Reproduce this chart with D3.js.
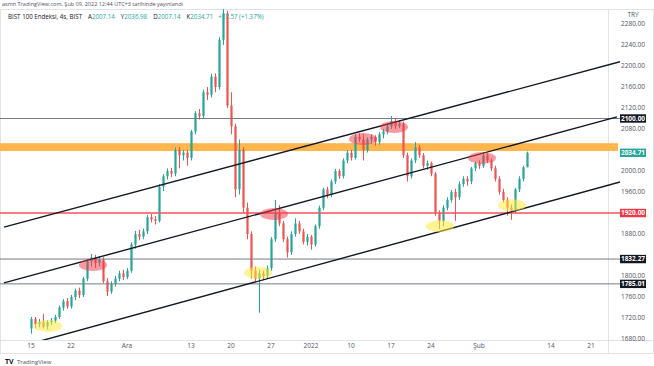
<!DOCTYPE html>
<html>
<head>
<meta charset="utf-8">
<script src="https://cdn.jsdelivr.net/npm/d3@7"></script>
<style>
  body { margin: 0; background: #fff; }
  svg { display: block; font-family: 'Open Sans', sans-serif; }
</style>
</head>
<body>
<svg id="chart" width="654" height="366"></svg>
<script>
// 4h candles, BIST 100, 15 Kas 2021 - 09 Şub 2022 : [open, high, low, close]
const candles = [
  [1700, 1722, 1690, 1718], [1718, 1722, 1700, 1708], [1708, 1718, 1702, 1712], [1712, 1728, 1700, 1704],
  [1704, 1716, 1698, 1712], [1712, 1720, 1706, 1715], [1715, 1726, 1710, 1722], [1722, 1744, 1718, 1740],
  [1740, 1756, 1734, 1752], [1752, 1758, 1738, 1742], [1742, 1764, 1738, 1760], [1760, 1776, 1754, 1772],
  [1772, 1778, 1758, 1764], [1764, 1798, 1760, 1795], [1795, 1832, 1790, 1828], [1828, 1842, 1818, 1835],
  [1835, 1840, 1815, 1825], [1825, 1838, 1818, 1832], [1832, 1836, 1786, 1790], [1790, 1796, 1762, 1770],
  [1770, 1790, 1766, 1785], [1785, 1800, 1780, 1795], [1795, 1810, 1790, 1805], [1805, 1812, 1792, 1798],
  [1798, 1815, 1794, 1810], [1810, 1864, 1806, 1860], [1860, 1886, 1852, 1880], [1880, 1888, 1868, 1875],
  [1875, 1890, 1870, 1885], [1885, 1916, 1880, 1912], [1912, 1918, 1902, 1908], [1908, 1914, 1898, 1905],
  [1905, 1975, 1902, 1970], [1970, 1994, 1962, 1990], [1990, 2005, 1984, 2000], [2000, 2006, 1988, 1995],
  [1995, 2045, 1990, 2040], [2040, 2046, 2005, 2030], [2030, 2040, 2020, 2035], [2035, 2040, 2010, 2025],
  [2025, 2078, 2020, 2075], [2075, 2114, 2070, 2110], [2110, 2118, 2098, 2105], [2105, 2155, 2100, 2150],
  [2150, 2160, 2135, 2145], [2145, 2185, 2140, 2180], [2180, 2186, 2150, 2160], [2160, 2255, 2155, 2250],
  [2250, 2310, 2240, 2300], [2300, 2305, 2120, 2125], [2125, 2150, 2070, 2085], [2085, 2090, 1950, 1965],
  [1965, 2060, 1955, 2040], [2040, 2045, 1920, 1930], [1930, 1940, 1870, 1880], [1880, 1885, 1795, 1810],
  [1810, 1818, 1788, 1795], [1795, 1812, 1730, 1805], [1805, 1810, 1792, 1800], [1800, 1820, 1796, 1815],
  [1815, 1874, 1810, 1870], [1870, 1945, 1865, 1920], [1920, 1935, 1895, 1900], [1900, 1905, 1865, 1870],
  [1870, 1875, 1835, 1845], [1845, 1885, 1840, 1880], [1880, 1910, 1875, 1900], [1900, 1905, 1880, 1885],
  [1885, 1890, 1860, 1865], [1865, 1880, 1858, 1875], [1875, 1878, 1850, 1860], [1860, 1898, 1856, 1895],
  [1895, 1934, 1890, 1930], [1930, 1968, 1925, 1965], [1965, 1970, 1948, 1955], [1955, 1984, 1950, 1980],
  [1980, 2004, 1975, 2000], [2000, 2004, 1985, 1990], [1990, 2024, 1986, 2020], [2020, 2040, 2015, 2035],
  [2035, 2040, 2020, 2025], [2025, 2070, 2022, 2065], [2065, 2072, 2055, 2060], [2060, 2070, 2020, 2040],
  [2040, 2064, 2035, 2060], [2060, 2070, 2052, 2065], [2065, 2068, 2048, 2055], [2055, 2074, 2050, 2070],
  [2070, 2080, 2062, 2075], [2075, 2090, 2070, 2085], [2085, 2105, 2080, 2095], [2095, 2100, 2080, 2085],
  [2085, 2096, 2082, 2090], [2090, 2094, 2025, 2030], [2030, 2035, 1980, 1990], [1990, 2024, 1986, 2020],
  [2020, 2055, 2015, 2045], [2045, 2050, 2025, 2030], [2030, 2034, 2005, 2010], [2010, 2020, 2002, 2015],
  [2015, 2018, 1990, 1995], [1995, 1998, 1915, 1920], [1920, 1925, 1890, 1905], [1905, 1935, 1895, 1930],
  [1930, 1950, 1925, 1945], [1945, 1964, 1940, 1960], [1960, 1966, 1905, 1950], [1950, 1980, 1945, 1975],
  [1975, 1990, 1970, 1985], [1985, 1990, 1972, 1980], [1980, 2008, 1975, 2005], [2005, 2018, 2000, 2015],
  [2015, 2020, 2004, 2010], [2010, 2036, 2006, 2030], [2030, 2034, 2015, 2020], [2020, 2024, 2000, 2005],
  [2005, 2010, 1980, 1985], [1985, 1990, 1955, 1960], [1960, 1966, 1940, 1945], [1945, 1950, 1915, 1930],
  [1930, 1936, 1907, 1925], [1925, 1968, 1920, 1965], [1965, 1990, 1960, 1985], [1985, 2010, 1980, 2007.14],
  [2007.14, 2036.98, 2007.14, 2034.71]
]

// Time axis labels, placed on bar index
const timeTicks = [
  { bar: 0, label: '15' }, { bar: 10, label: '22' }, { bar: 24, label: 'Ara' },
  { bar: 40, label: '13' }, { bar: 50, label: '20' }, { bar: 60, label: '27' },
  { bar: 70, label: '2022' }, { bar: 80, label: '10' }, { bar: 90, label: '17' },
  { bar: 100, label: '24' }, { bar: 112, label: 'Şub' }, { bar: 130, label: '14' },
  { bar: 140, label: '21' }
]

// Price axis labels that are not hidden by the level boxes
const priceTicks = [2280, 2240, 2200, 2160, 2120, 2080, 2000, 1960, 1880, 1800, 1760, 1720, 1680]

// Horizontal levels drawn by the author
const levels = [
  { price: 2100, kind: 'gray' },
  { price: 1920, kind: 'red' },
  { price: 1832.27, kind: 'gray' },
  { price: 1785.01, kind: 'gray' }
]

// Orange resistance band [low, high]
const band = [2038, 2053]

// Rising channel lines : [bar, price] -> [bar, price]
const channels = [
  [[-6.75, 1893], [147.25, 2208]],
  [[-6.75, 1787], [146.5, 2103]],
  [[1.75, 1675], [147.25, 1979]]
]

// Highlighted tops (red) and bottoms (yellow) : bar index, price
const tops = [[15.5, 1821], [60.75, 1918], [83, 2061], [90.75, 2084], [112.75, 2025]]
const bottoms = [[4.25, 1705], [56.75, 1806], [102.25, 1895], [120.25, 1935]]

// Change shown in the legend
const change = 27.57
const changePct = 1.37

const last = candles[candles.length - 1]

const W = 654
const pane = { left: 0, top: 9, right: 608, bottom: 340 }
const UP = '#26a69a'
const DOWN = '#ef5350'

const svg = d3.select('#chart')

const x = d3.scaleLinear().domain([0, 140]).range([31, 591])
const y = d3.scaleLinear().domain([1680, 2280]).range([339, 24])

// Clip paths for the pane and for drawings that run over the price axis
const defs = svg.append('defs')
defs.append('clipPath').attr('id', 'pane')
  .append('rect')
  .attr('x', pane.left).attr('y', pane.top)
  .attr('width', pane.right - pane.left).attr('height', pane.bottom - pane.top)
defs.append('clipPath').attr('id', 'draw')
  .append('rect')
  .attr('x', pane.left).attr('y', pane.top)
  .attr('width', 620).attr('height', pane.bottom - pane.top)

// Frame
const frame = svg.append('g').attr('stroke', '#e0e3eb').attr('stroke-width', 1)
frame.append('rect').attr('x', 0.5).attr('y', pane.top + 0.5)
  .attr('width', W - 1).attr('height', 353 - pane.top).attr('fill', 'none')
frame.append('line').attr('x1', pane.right + 0.5).attr('x2', pane.right + 0.5)
  .attr('y1', pane.top).attr('y2', 353)
frame.append('line').attr('x1', 0).attr('x2', W)
  .attr('y1', pane.bottom + 0.5).attr('y2', pane.bottom + 0.5)

// Orange band
svg.append('rect')
  .attr('clip-path', 'url(#draw)')
  .attr('x', 0).attr('width', 618)
  .attr('y', y(band[1])).attr('height', y(band[0]) - y(band[1]))
  .attr('fill', '#ffb74d')

// Candles
const step = x(1) - x(0)
const bodyW = step * 0.55
const gc = svg.append('g').attr('clip-path', 'url(#pane)')
candles.forEach((c, i) => {
  const [o, h, l, cl] = c
  const col = cl >= o ? UP : DOWN
  const cx = Math.round(x(i)) + 0.5
  gc.append('line')
    .attr('x1', cx).attr('x2', cx)
    .attr('y1', y(h)).attr('y2', y(l))
    .attr('stroke', col).attr('stroke-width', 1)
  const top = y(Math.max(o, cl))
  gc.append('rect')
    .attr('x', cx - bodyW / 2).attr('width', bodyW)
    .attr('y', top).attr('height', Math.max(1, y(Math.min(o, cl)) - top))
    .attr('fill', col)
})

// Horizontal levels
const gl = svg.append('g').attr('clip-path', 'url(#draw)')
levels.forEach(d => {
  gl.append('line')
    .attr('x1', 0).attr('x2', 620)
    .attr('y1', y(d.price)).attr('y2', y(d.price))
    .attr('stroke', d.kind === 'red' ? '#f7525f' : '#787b86')
    .attr('stroke-width', d.kind === 'red' ? 1.5 : 1)
})

// Channel lines
channels.forEach(([a, b]) => {
  gl.append('line')
    .attr('x1', x(a[0])).attr('y1', y(a[1]))
    .attr('x2', x(b[0])).attr('y2', y(b[1]))
    .attr('stroke', '#131722').attr('stroke-width', 1.4)
})

// Ellipses on tops and bottoms
const ge = svg.append('g').attr('clip-path', 'url(#pane)')
tops.forEach(([b, p]) => {
  ge.append('ellipse').attr('cx', x(b)).attr('cy', y(p))
    .attr('rx', 14).attr('ry', 6)
    .attr('fill', '#f23645').attr('fill-opacity', 0.5)
})
bottoms.forEach(([b, p]) => {
  ge.append('ellipse').attr('cx', x(b)).attr('cy', y(p))
    .attr('rx', 14).attr('ry', 6)
    .attr('fill', '#ffeb3b').attr('fill-opacity', 0.55)
})

// Price axis labels
const axisX = 633
svg.append('text').attr('x', axisX).attr('y', 17)
  .attr('text-anchor', 'middle').attr('font-size', 6.5).attr('fill', '#50535e')
  .text('TRY')
svg.append('g').selectAll('text').data(priceTicks).join('text')
  .attr('x', axisX).attr('y', d => y(d) + 2.3)
  .attr('text-anchor', 'middle').attr('font-size', 6.5).attr('fill', '#50535e')
  .text(d => d.toFixed(2))

// Level boxes on the price axis
const boxes = [
  { price: 2100, color: '#131722' },
  { price: last[3], color: UP },
  { price: 1920, color: '#f23645' },
  { price: 1832.27, color: '#131722' },
  { price: 1785.01, color: '#131722' }
]
boxes.forEach(d => {
  svg.append('rect')
    .attr('x', 620).attr('y', y(d.price) - 4.2)
    .attr('width', 26).attr('height', 8.4)
    .attr('fill', d.color)
  svg.append('text')
    .attr('x', axisX).attr('y', y(d.price) + 2.3)
    .attr('text-anchor', 'middle').attr('font-size', 6.5)
    .attr('font-weight', 'bold').attr('fill', '#fff')
    .text(d.price.toFixed(2))
})

// Time axis labels
svg.append('g').selectAll('text').data(timeTicks).join('text')
  .attr('x', d => x(d.bar)).attr('y', 348)
  .attr('text-anchor', 'middle').attr('font-size', 6.5).attr('fill', '#50535e')
  .text(d => d.label)

// Header
svg.append('text').attr('x', 2).attr('y', 6)
  .attr('font-size', 5.5).attr('fill', '#50535e')
  .text('asmn TradingView.com, Şub 09, 2022 12:44 UTC+3 tarihinde yayınlandı')

const legend = svg.append('text').attr('x', 8).attr('y', 19)
  .attr('font-size', 6.2).attr('fill', '#131722')
legend.append('tspan').text('BIST 100 Endeksi, 4s, BIST')
const ohlc = [['A', last[0]], ['Y', last[1]], ['D', last[2]], ['K', last[3]]]
ohlc.forEach(([k, v]) => {
  legend.append('tspan').attr('dx', 6).attr('fill', '#131722').text(k)
  legend.append('tspan').attr('fill', UP).text(v.toFixed(2))
})
legend.append('tspan').attr('dx', 5).attr('fill', UP)
  .text('+' + change.toFixed(2) + ' (+' + changePct.toFixed(2) + '%)')

// TradingView logo
svg.append('text').attr('x', 5).attr('y', 364)
  .attr('font-size', 7).attr('font-weight', 'bold').attr('fill', '#131722')
  .text('TV')
svg.append('text').attr('x', 17).attr('y', 364)
  .attr('font-size', 6).attr('fill', '#50535e')
  .text('TradingView')
</script>
</body>
</html>
